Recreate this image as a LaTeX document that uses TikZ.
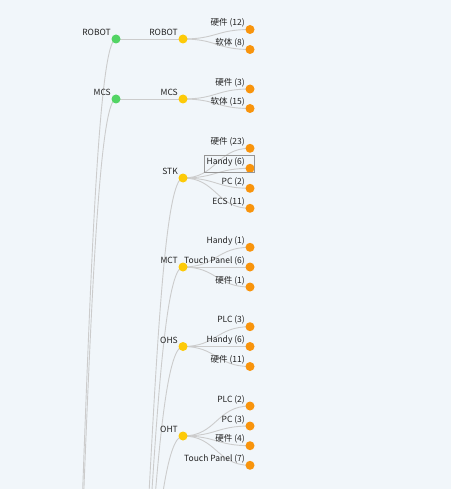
\documentclass[tikz,border=0pt]{standalone}
\usepackage{fontspec}
\setmainfont{Noto Sans CJK SC}
\usetikzlibrary{calc}
\definecolor{bgc}{RGB}{241,246,250}
\definecolor{edgec}{RGB}{204,204,204}
\definecolor{greenc}{RGB}{82,212,100}
\definecolor{yellowc}{RGB}{253,202,8}
\definecolor{orangec}{RGB}{248,148,12}
\definecolor{txtc}{RGB}{34,34,34}
\definecolor{boxc}{RGB}{150,150,150}
\pgfdeclarelayer{bg}
\pgfdeclarelayer{edges}
\pgfsetlayers{bg,edges,main}
\tikzset{
  dot/.style={circle,inner sep=0pt,minimum size=9pt,draw=none},
  gdot/.style={dot,fill=greenc},
  ydot/.style={dot,fill=yellowc},
  odot/.style={dot,fill=orangec},
  lbl/.style={anchor=east,inner sep=0pt,text=txtc,font=\fontsize{8.5}{10}\selectfont},
  edgeline/.style={draw=edgec,line width=0.9pt},
}
\newcommand\tnode[5]{% style, name, x, y, text
  \node[#1] (#2) at (#3,#4) {};
  \node[lbl] (#2-t) at ($(#2.center)+(-5,-6.5)$) {#5};}
\newcommand\tedge[2]{%
  \begin{pgfonlayer}{edges}
  \draw[edgeline] let \p1=(#1), \p2=(#2) in
    (\p1) .. controls ({(\x1+\x2)/2},\y1) and ({(\x1+\x2)/2},\y2) .. (\p2);
  \end{pgfonlayer}}
\begin{document}
\begin{tikzpicture}[x=1pt,y=-1pt]
\useasboundingbox (0,0) rectangle (451,489);
\begin{pgfonlayer}{bg}
\fill[bgc] (0,0) rectangle (451,489);
\end{pgfonlayer}
\clip (0,0) rectangle (451,489);
% off-canvas parents
\coordinate (root) at (49,950);
\coordinate (g3) at (116,790);
% level 1
\tnode{gdot}{g1}{116}{39}{ROBOT}
\tnode{gdot}{g2}{116}{99}{MCS}
% level 2
\tnode{ydot}{y1}{183}{39}{ROBOT}
\tnode{ydot}{y2}{183}{99}{MCS}
\tnode{ydot}{y3}{183}{178}{STK}
\tnode{ydot}{y4}{183}{267}{MCT}
\tnode{ydot}{y5}{183}{346.5}{OHS}
\tnode{ydot}{y6}{183}{436}{OHT}
% leaves
\tnode{odot}{a1}{250}{29.5}{硬件 (12)}
\tnode{odot}{a2}{250}{49.5}{软体 (8)}
\tnode{odot}{b1}{250}{89}{硬件 (3)}
\tnode{odot}{b2}{250}{108.5}{软体 (15)}
\tnode{odot}{c1}{250}{148.3}{硬件 (23)}
\tnode{odot}{c2}{250}{168.3}{Handy (6)}
\tnode{odot}{c3}{250}{188.3}{PC (2)}
\tnode{odot}{c4}{250}{208.3}{ECS (11)}
\tnode{odot}{d1}{250}{247.3}{Handy (1)}
\tnode{odot}{d2}{250}{267}{Touch Panel (6)}
\tnode{odot}{d3}{250}{287}{硬件 (1)}
\tnode{odot}{e1}{250}{326.7}{PLC (3)}
\tnode{odot}{e2}{250}{346.5}{Handy (6)}
\tnode{odot}{e3}{250}{366.5}{硬件 (11)}
\tnode{odot}{f1}{250}{406}{PLC (2)}
\tnode{odot}{f2}{250}{426}{PC (3)}
\tnode{odot}{f3}{250}{445.7}{硬件 (4)}
\tnode{odot}{f4}{250}{465.3}{Touch Panel (7)}
% highlight box
\node[draw=boxc,line width=0.7pt,inner sep=0pt,minimum width=50pt,minimum height=17.5pt] (hbox) at (229.3,163.8) {};
% edges
\tedge{g1}{root}
\tedge{g2}{root}
\tedge{g1}{y1}
\tedge{g2}{y2}
\tedge{y3}{g3}
\tedge{y4}{g3}
\tedge{y5}{g3}
\tedge{y6}{g3}
\foreach \pa/\ch in {y1/a1,y1/a2,y2/b1,y2/b2,y3/c1,y3/c2,y3/c3,y3/c4,y4/d1,y4/d2,y4/d3,y5/e1,y5/e2,y5/e3,y6/f1,y6/f2,y6/f3,y6/f4}{\tedge{\pa}{\ch}}
\end{tikzpicture}
\end{document}
